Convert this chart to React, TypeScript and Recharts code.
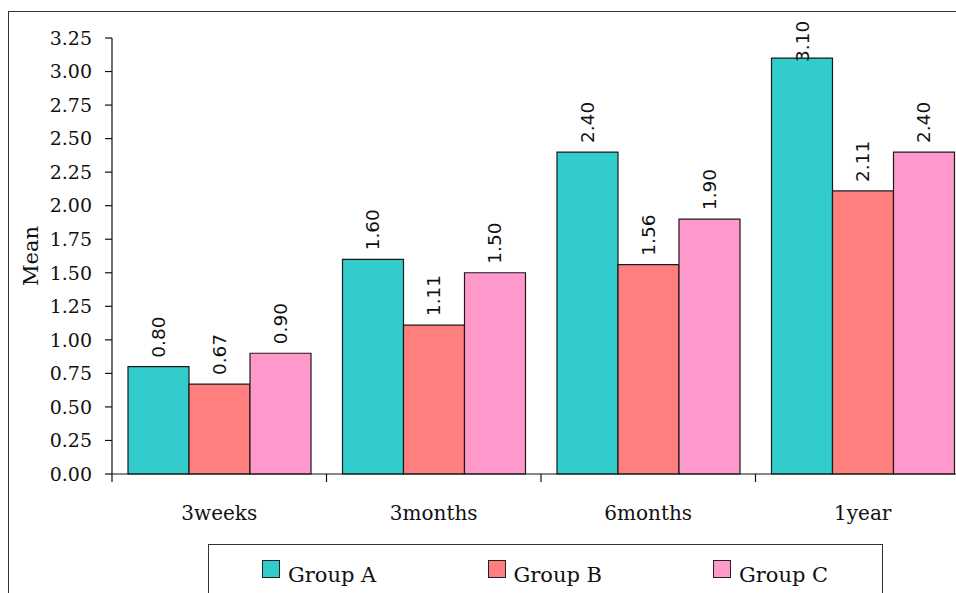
import { BarChart, Bar, XAxis, YAxis, LabelList } from "recharts"

const categories = ["3weeks", "3months", "6months", "1year"]
const groupA = [0.8, 1.6, 2.4, 3.1]
const groupB = [0.67, 1.11, 1.56, 2.11]
const groupC = [0.9, 1.5, 1.9, 2.4]
const yTicks = [0, 0.25, 0.5, 0.75, 1, 1.25, 1.5, 1.75, 2, 2.25, 2.5, 2.75, 3, 3.25]
const seriesNames = ["Group A", "Group B", "Group C"]
const seriesKeys = ["a", "b", "c"]
const seriesColors = ["#33CCCC", "#FF7F7F", "#FF99CC"]

const CHART_W = 970
const AXIS_X = 112
const SERIF = "'DejaVu Serif', serif"
const band = (CHART_W - AXIS_X) / categories.length

function CategoryTick(props: any) {
  const { x, y, payload } = props
  const left = x - band / 2
  const isLast = payload.index === categories.length - 1
  return (
    <g>
      <line x1={left} x2={left} y1={y} y2={y + 8} stroke="#111" strokeWidth={1.2} />
      {isLast && <line x1={left + band} x2={left + band} y1={y} y2={y + 8} stroke="#111" strokeWidth={1.2} />}
      <text x={x} y={y + 46} textAnchor="middle" fontFamily={SERIF} fontSize={20} fill="#111">
        {payload.value}
      </text>
    </g>
  )
}

function ValueLabel(props: any) {
  const { x, y, width, value } = props
  const cx = Number(x) + Number(width) / 2
  // keep the label inside the chart area when the bar is tall
  const end = Math.max(Number(y) - 9, 62)
  return (
    <text
      x={cx}
      y={end}
      transform={`rotate(-90 ${cx} ${end})`}
      textAnchor="start"
      dominantBaseline="central"
      fontFamily="'DejaVu Sans', sans-serif"
      fontSize={18.5}
      fill="#111"
    >
      {Number(value).toFixed(2)}
    </text>
  )
}

export default function App() {
  const data = categories.map((name, i) => ({ name, a: groupA[i], b: groupB[i], c: groupC[i] }))

  return (
    <div style={{ position: "fixed", left: 0, top: 0, width: 956, height: 593, overflow: "hidden", background: "#fff" }}>
      <div
        style={{
          position: "absolute",
          left: 8,
          top: 11,
          width: 1000,
          height: 700,
          border: "1.5px solid #333",
          boxSizing: "border-box",
        }}
      />
      <div style={{ position: "absolute", left: 0, top: 0 }}>
        <BarChart
          width={CHART_W}
          height={600}
          data={data}
          margin={{ top: 38, right: 0, bottom: 0, left: 0 }}
          barCategoryGap={16}
          barGap={0}
        >
          <XAxis
            dataKey="name"
            height={126}
            interval={0}
            tickLine={false}
            tickSize={0}
            tickMargin={0}
            axisLine={{ stroke: "#111", strokeWidth: 1.2 }}
            tick={<CategoryTick />}
          />
          <YAxis
            width={AXIS_X}
            domain={[0, 3.25]}
            ticks={yTicks}
            interval={0}
            tickSize={7}
            tickMargin={13}
            tickLine={{ stroke: "#111", strokeWidth: 1.2 }}
            axisLine={{ stroke: "#111", strokeWidth: 1.2 }}
            tickFormatter={(v: number) => v.toFixed(2)}
            tick={{ fontFamily: SERIF, fontSize: 19, fill: "#111" }}
            label={{
              content: (p: any) => {
                const vb = p.viewBox || { y: 38, height: 436 }
                const cy = vb.y + vb.height / 2
                return (
                  <text
                    x={31}
                    y={cy}
                    transform={`rotate(-90 31 ${cy})`}
                    textAnchor="middle"
                    dominantBaseline="central"
                    fontFamily={SERIF}
                    fontSize={21}
                    fill="#111"
                  >
                    Mean
                  </text>
                )
              },
            }}
          />
          {seriesKeys.map((k, i) => (
            <Bar
              key={k}
              dataKey={k}
              name={seriesNames[i]}
              fill={seriesColors[i]}
              stroke="#1a1a1a"
              strokeWidth={1.2}
              isAnimationActive={false}
            >
              <LabelList dataKey={k} content={<ValueLabel />} />
            </Bar>
          ))}
        </BarChart>
      </div>
      <div
        style={{
          position: "absolute",
          left: 208,
          top: 544,
          width: 675,
          height: 80,
          border: "1.5px solid #333",
          boxSizing: "border-box",
        }}
      >
        {seriesNames.map((n, i) => (
          <div key={n} style={{ position: "absolute", left: 53 + i * 225.5, top: 15 }}>
            <span
              style={{
                position: "absolute",
                left: 0,
                top: 0,
                width: 18,
                height: 18,
                background: seriesColors[i],
                border: "1px solid #222",
                boxSizing: "border-box",
              }}
            />
            <span
              style={{
                position: "absolute",
                left: 26,
                top: 0,
                fontFamily: SERIF,
                fontSize: 21,
                lineHeight: "30px",
                color: "#111",
                whiteSpace: "nowrap",
              }}
            >
              {n}
            </span>
          </div>
        ))}
      </div>
    </div>
  )
}
